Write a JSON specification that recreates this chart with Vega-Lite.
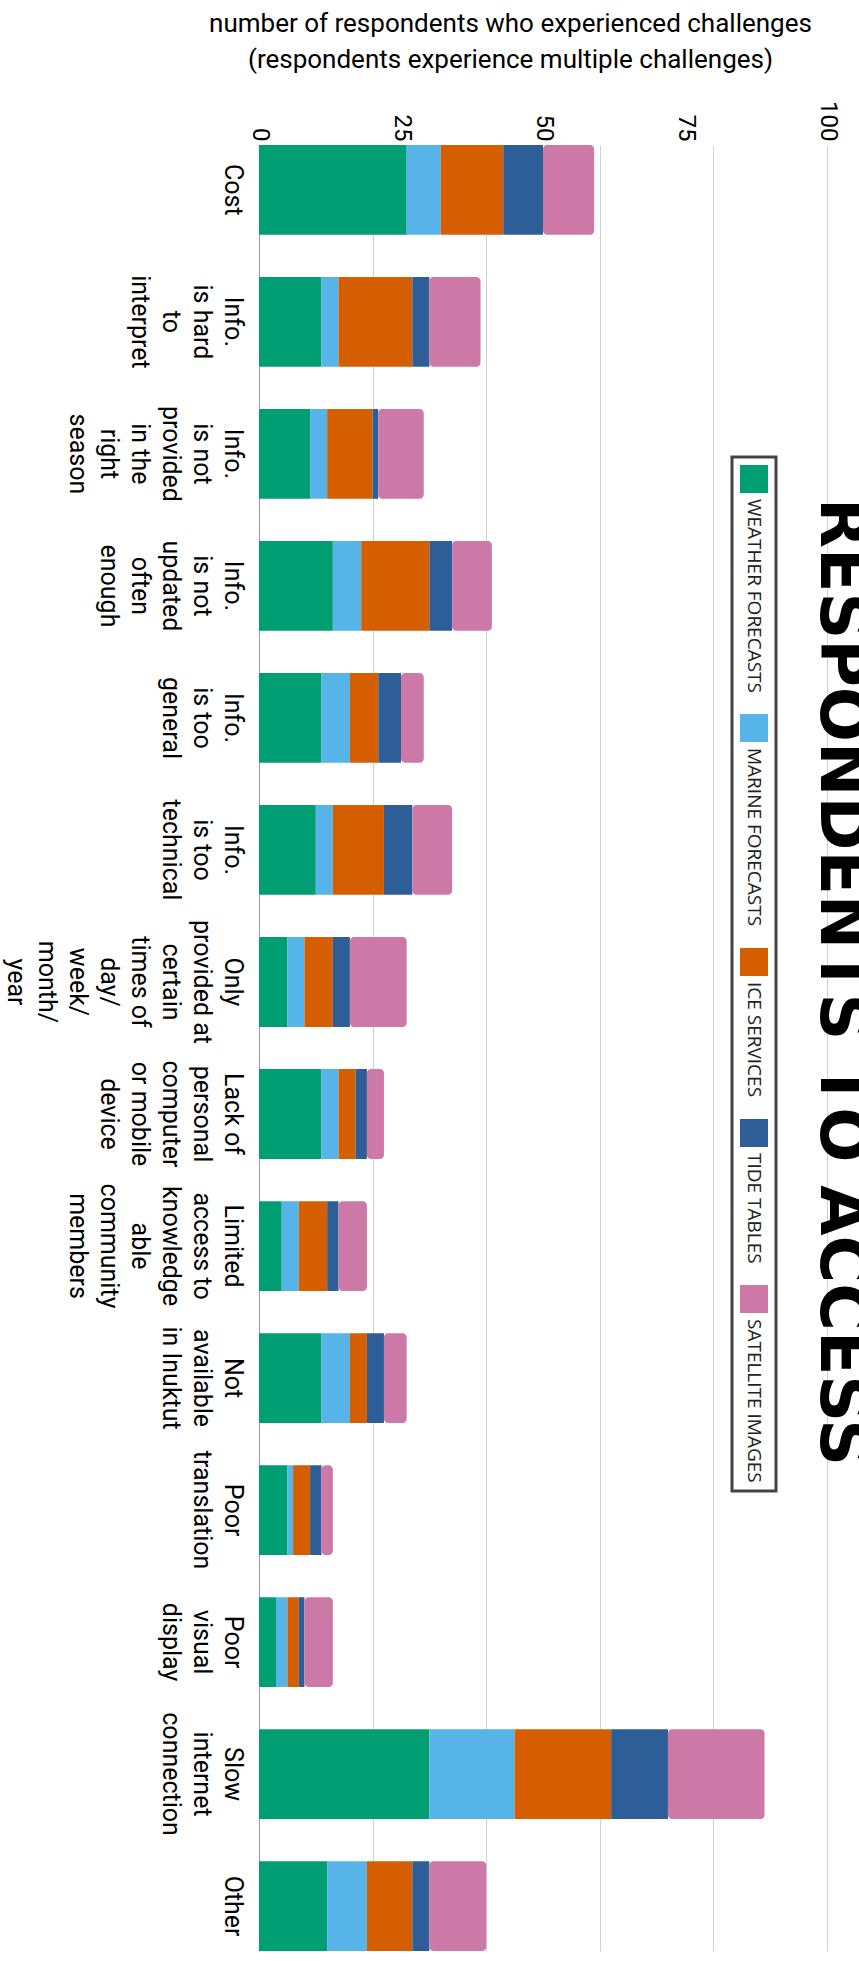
{
  "$schema": "https://vega.github.io/schema/vega-lite/v6.json",
  "autosize": {"type": "none"},
  "width": 568,
  "height": 1806,
  "padding": {"left": 259, "top": 145, "right": 32, "bottom": 10},
  "background": "white",
  "config": {"view": {"stroke": null}},
  "title": {
    "text": "RESPONDENTS TO ACCESS",
    "orient": "right",
    "anchor": "middle",
    "font": "DejaVu Sans",
    "fontSize": 65,
    "fontWeight": "bold",
    "color": "black",
    "offset": -83,
    "dx": -66,
    "baseline": "alphabetic"
  },
  "data": {
    "values": [
      {"challenge": "Cost", "service": "Weather forecasts", "count": 26},
      {"challenge": "Cost", "service": "Marine forecasts", "count": 6},
      {"challenge": "Cost", "service": "Ice services", "count": 11},
      {"challenge": "Cost", "service": "Tide tables", "count": 7},
      {"challenge": "Cost", "service": "Satellite images", "count": 9},
      {"challenge": "Info. is hard to interpret", "service": "Weather forecasts", "count": 11},
      {"challenge": "Info. is hard to interpret", "service": "Marine forecasts", "count": 3},
      {"challenge": "Info. is hard to interpret", "service": "Ice services", "count": 13},
      {"challenge": "Info. is hard to interpret", "service": "Tide tables", "count": 3},
      {"challenge": "Info. is hard to interpret", "service": "Satellite images", "count": 9},
      {"challenge": "Info. is not provided in the right season", "service": "Weather forecasts", "count": 9},
      {"challenge": "Info. is not provided in the right season", "service": "Marine forecasts", "count": 3},
      {"challenge": "Info. is not provided in the right season", "service": "Ice services", "count": 8},
      {"challenge": "Info. is not provided in the right season", "service": "Tide tables", "count": 1},
      {"challenge": "Info. is not provided in the right season", "service": "Satellite images", "count": 8},
      {"challenge": "Info. is not updated often enough", "service": "Weather forecasts", "count": 13},
      {"challenge": "Info. is not updated often enough", "service": "Marine forecasts", "count": 5},
      {"challenge": "Info. is not updated often enough", "service": "Ice services", "count": 12},
      {"challenge": "Info. is not updated often enough", "service": "Tide tables", "count": 4},
      {"challenge": "Info. is not updated often enough", "service": "Satellite images", "count": 7},
      {"challenge": "Info. is too general", "service": "Weather forecasts", "count": 11},
      {"challenge": "Info. is too general", "service": "Marine forecasts", "count": 5},
      {"challenge": "Info. is too general", "service": "Ice services", "count": 5},
      {"challenge": "Info. is too general", "service": "Tide tables", "count": 4},
      {"challenge": "Info. is too general", "service": "Satellite images", "count": 4},
      {"challenge": "Info. is too technical", "service": "Weather forecasts", "count": 10},
      {"challenge": "Info. is too technical", "service": "Marine forecasts", "count": 3},
      {"challenge": "Info. is too technical", "service": "Ice services", "count": 9},
      {"challenge": "Info. is too technical", "service": "Tide tables", "count": 5},
      {"challenge": "Info. is too technical", "service": "Satellite images", "count": 7},
      {"challenge": "Only provided at certain times of day/week/month/year", "service": "Weather forecasts", "count": 5},
      {"challenge": "Only provided at certain times of day/week/month/year", "service": "Marine forecasts", "count": 3},
      {"challenge": "Only provided at certain times of day/week/month/year", "service": "Ice services", "count": 5},
      {"challenge": "Only provided at certain times of day/week/month/year", "service": "Tide tables", "count": 3},
      {"challenge": "Only provided at certain times of day/week/month/year", "service": "Satellite images", "count": 10},
      {"challenge": "Lack of personal computer or mobile device", "service": "Weather forecasts", "count": 11},
      {"challenge": "Lack of personal computer or mobile device", "service": "Marine forecasts", "count": 3},
      {"challenge": "Lack of personal computer or mobile device", "service": "Ice services", "count": 3},
      {"challenge": "Lack of personal computer or mobile device", "service": "Tide tables", "count": 2},
      {"challenge": "Lack of personal computer or mobile device", "service": "Satellite images", "count": 3},
      {"challenge": "Limited access to knowledgeable community members", "service": "Weather forecasts", "count": 4},
      {"challenge": "Limited access to knowledgeable community members", "service": "Marine forecasts", "count": 3},
      {"challenge": "Limited access to knowledgeable community members", "service": "Ice services", "count": 5},
      {"challenge": "Limited access to knowledgeable community members", "service": "Tide tables", "count": 2},
      {"challenge": "Limited access to knowledgeable community members", "service": "Satellite images", "count": 5},
      {"challenge": "Not available in Inuktut", "service": "Weather forecasts", "count": 11},
      {"challenge": "Not available in Inuktut", "service": "Marine forecasts", "count": 5},
      {"challenge": "Not available in Inuktut", "service": "Ice services", "count": 3},
      {"challenge": "Not available in Inuktut", "service": "Tide tables", "count": 3},
      {"challenge": "Not available in Inuktut", "service": "Satellite images", "count": 4},
      {"challenge": "Poor translation", "service": "Weather forecasts", "count": 5},
      {"challenge": "Poor translation", "service": "Marine forecasts", "count": 1},
      {"challenge": "Poor translation", "service": "Ice services", "count": 3},
      {"challenge": "Poor translation", "service": "Tide tables", "count": 2},
      {"challenge": "Poor translation", "service": "Satellite images", "count": 2},
      {"challenge": "Poor visual display", "service": "Weather forecasts", "count": 3},
      {"challenge": "Poor visual display", "service": "Marine forecasts", "count": 2},
      {"challenge": "Poor visual display", "service": "Ice services", "count": 2},
      {"challenge": "Poor visual display", "service": "Tide tables", "count": 1},
      {"challenge": "Poor visual display", "service": "Satellite images", "count": 5},
      {"challenge": "Slow internet connection", "service": "Weather forecasts", "count": 30},
      {"challenge": "Slow internet connection", "service": "Marine forecasts", "count": 15},
      {"challenge": "Slow internet connection", "service": "Ice services", "count": 17},
      {"challenge": "Slow internet connection", "service": "Tide tables", "count": 10},
      {"challenge": "Slow internet connection", "service": "Satellite images", "count": 17},
      {"challenge": "Other", "service": "Weather forecasts", "count": 12},
      {"challenge": "Other", "service": "Marine forecasts", "count": 7},
      {"challenge": "Other", "service": "Ice services", "count": 8},
      {"challenge": "Other", "service": "Tide tables", "count": 3},
      {"challenge": "Other", "service": "Satellite images", "count": 10}
    ]
  },
  "transform": [
    {"stack": "count", "groupby": ["challenge"], "as": ["x0", "x1"]}
  ],
  "encoding": {
    "y": {
      "field": "challenge",
      "type": "nominal",
      "scale": {
        "domain": ["Cost", "Info. is hard to interpret", "Info. is not provided in the right season", "Info. is not updated often enough", "Info. is too general", "Info. is too technical", "Only provided at certain times of day/week/month/year", "Lack of personal computer or mobile device", "Limited access to knowledgeable community members", "Not available in Inuktut", "Poor translation", "Poor visual display", "Slow internet connection", "Other"],
        "paddingInner": 0.32,
        "paddingOuter": 0
      },
      "axis": {
        "orient": "left",
        "title": null,
        "labelAngle": 90,
        "labelAlign": "center",
        "labelBaseline": "top",
        "labelPadding": 15,
        "ticks": false,
        "domain": true,
        "domainColor": "#999999",
        "domainWidth": 1,
        "labelFont": "Roboto",
        "labelFontSize": 25,
        "labelLineHeight": 31,
        "labelColor": "black",
        "labelLimit": 1000,
        "labelOverlap": false,
        "labelBound": false,
        "labelExpr": "({'Cost':['Cost'],'Info. is hard to interpret':['Info.','is hard','to','interpret'],'Info. is not provided in the right season':['Info.','is not','provided','in the','right','season'],'Info. is not updated often enough':['Info.','is not','updated','often','enough'],'Info. is too general':['Info.','is too','general'],'Info. is too technical':['Info.','is too','technical'],'Only provided at certain times of day/week/month/year':['Only','provided at','certain','times of','day/','week/','month/','year'],'Lack of personal computer or mobile device':['Lack of','personal','computer','or mobile','device'],'Limited access to knowledgeable community members':['Limited','access to','knowledge','able','community','members'],'Not available in Inuktut':['Not','available','in Inuktut'],'Poor translation':['Poor','translation'],'Poor visual display':['Poor','visual','display'],'Slow internet connection':['Slow','internet','connection'],'Other':['Other']})[datum.value]"
      }
    },
    "x2": {"field": "x1"},
    "color": {
      "field": "service",
      "type": "nominal",
      "scale": {
        "domain": ["Weather forecasts", "Marine forecasts", "Ice services", "Tide tables", "Satellite images"],
        "range": ["#009E73", "#56B4E9", "#D55E00", "#2E5E98", "#CC79A7"]
      },
      "legend": {
        "orient": "none",
        "legendX": 473,
        "legendY": 312,
        "direction": "vertical",
        "title": null,
        "symbolType": "square",
        "symbolSize": 784,
        "symbolStrokeWidth": 0,
        "symbolOpacity": 1,
        "labelFont": "Open Sans",
        "labelFontSize": 19,
        "labelColor": "#222222",
        "labelLimit": 1000,
        "labelOffset": 0,
        "labelAlign": "left",
        "labelBaseline": "middle",
        "labelExpr": "upper(datum.label)",
        "rowPadding": 21,
        "padding": 8,
        "strokeColor": "#444444",
        "fillColor": "white",
        "encode": {
          "labels": {"update": {"angle": {"value": 90}, "dx": {"value": 20}, "dy": {"value": 14}}},
          "legend": {"update": {"strokeWidth": {"value": 3}}},
          "symbols": {"update": {"fill": {"signal": "datum.value === 'Tide tables' ? '#0072B2' : scale('color', datum.value)"}}}
        }
      }
    }
  },
  "layer": [
    {
      "transform": [{"filter": "datum.service !== 'Satellite images'"}],
      "mark": {"type": "bar"},
      "encoding": {
        "x": {
          "field": "x0",
          "type": "quantitative",
          "scale": {"domain": [0, 100], "nice": false},
          "axis": {
            "orient": "top",
            "values": [0, 25, 50, 75, 100],
            "grid": false,
            "ticks": false,
            "domain": false,
            "labelAngle": 90,
            "labelAlign": "right",
            "labelBaseline": "middle",
            "labelPadding": 4,
            "labelFont": "Roboto",
            "labelFontSize": 24,
            "labelColor": "black",
            "labelFlush": false,
            "labelOverlap": false,
            "labelBound": false,
            "title": ["number of respondents who experienced challenges", "(respondents experience multiple challenges)"],
            "titleFont": "Roboto",
            "titleFontSize": 26,
            "titleFontWeight": "normal",
            "titleColor": "black",
            "titleLineHeight": 36,
            "titleAlign": "center",
            "titleBaseline": "alphabetic",
            "titleX": 251,
            "titleY": -114
          }
        }
      }
    },
    {
      "transform": [{"filter": "datum.service === 'Satellite images'"}],
      "mark": {"type": "bar", "cornerRadiusEnd": 4},
      "encoding": {
        "x": {
          "field": "x0",
          "type": "quantitative",
          "scale": {"domain": [0, 100], "nice": false},
          "axis": {
            "orient": "bottom",
            "values": [0, 20, 40, 60, 80, 100],
            "grid": true,
            "gridColor": "#d0d0d0",
            "gridWidth": 1,
            "labels": false,
            "ticks": false,
            "domain": false,
            "title": null
          }
        }
      }
    }
  ],
  "resolve": {"axis": {"x": "independent"}}
}
